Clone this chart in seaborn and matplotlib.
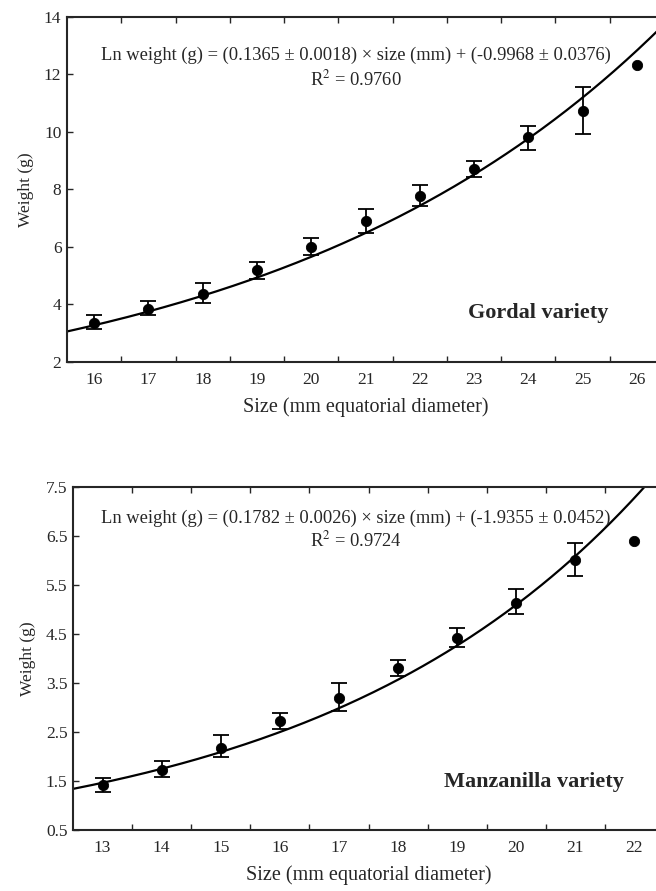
import numpy as np
import pandas as pd
import matplotlib
matplotlib.use("Agg")
import matplotlib.pyplot as plt
import seaborn as sns

# ---- data ----
gordal_size = [16, 17, 18, 19, 20, 21, 22, 23, 24, 25, 26]
gordal_weight = [3.37, 3.86, 4.38, 5.19, 6.01, 6.89, 7.76, 8.70, 9.81, 10.74, 12.32]
gordal_err_low = [0.23, 0.23, 0.32, 0.29, 0.28, 0.42, 0.35, 0.25, 0.42, 0.82, 0.0]
gordal_err_high = [0.26, 0.25, 0.36, 0.29, 0.30, 0.42, 0.38, 0.29, 0.41, 0.84, 0.0]
gordal_slope, gordal_intercept = 0.1365, -0.9968

manz_size = [13, 14, 15, 16, 17, 18, 19, 20, 21, 22]
manz_weight = [1.42, 1.73, 2.18, 2.73, 3.20, 3.80, 4.42, 5.14, 6.02, 6.39]
manz_err_low = [0.15, 0.14, 0.20, 0.16, 0.27, 0.16, 0.19, 0.23, 0.34, 0.0]
manz_err_high = [0.15, 0.18, 0.26, 0.15, 0.29, 0.16, 0.21, 0.27, 0.33, 0.0]
manz_slope, manz_intercept = 0.1782, -1.9355

gordal_eq = "Ln weight (g) = (0.1365 \u00b1 0.0018) \u00d7 size (mm) + (-0.9968 \u00b1 0.0376)"
gordal_r2 = "R$^2$ = 0.9760"
manz_eq = "Ln weight (g) = (0.1782 \u00b1 0.0026) \u00d7 size (mm) + (-1.9355 \u00b1 0.0452)"
manz_r2 = "R$^2$ = 0.9724"

sns.set_style("ticks")
plt.rcParams['font.family'] = ['Liberation Serif', 'DejaVu Serif']
plt.rcParams['mathtext.fontset'] = 'stix'

W, H = 656, 891
fig = plt.figure(figsize=(W / 100, H / 100), dpi=100)

def px_axes(left, top, right, bottom):
    return fig.add_axes([left / W, 1 - bottom / H, (right - left) / W, (bottom - top) / H])

ax1 = px_axes(67, 17, 664, 362)
ax2 = px_axes(73, 487, 664, 830)


def panel(ax, size, weight, elo, ehi, slope, intercept, xlim, ylim, yticks, eq, r2, name,
          eqpos, r2pos, namepos):
    df = pd.DataFrame({"size": size, "weight": weight})
    xs = np.linspace(xlim[0], xlim[1], 300)
    fit = pd.DataFrame({"size": xs, "weight": np.exp(slope * xs + intercept)})
    sns.lineplot(data=fit, x="size", y="weight", ax=ax, color="black", lw=1.6)
    mask = [(a > 0 or b > 0) for a, b in zip(elo, ehi)]
    ex = [s for s, m in zip(size, mask) if m]
    ey = [w for w, m in zip(weight, mask) if m]
    el = [e for e, m in zip(elo, mask) if m]
    eh = [e for e, m in zip(ehi, mask) if m]
    ax.errorbar(ex, ey, yerr=[el, eh], fmt="none", ecolor="black", elinewidth=1.3,
                capsize=5.5, capthick=1.3)
    sns.scatterplot(data=df, x="size", y="weight", ax=ax, color="black", s=55,
                    edgecolor="black", zorder=5)
    ax.set_xlim(*xlim)
    ax.set_ylim(*ylim)
    ax.set_xticks(size)
    ax.set_xticks(np.arange(xlim[0] + 1, xlim[1], 1.0), minor=True)
    ax.set_yticks(yticks)
    ax.set_yticklabels([("%g" % v) for v in yticks])
    ax.tick_params(axis="x", which="major", length=0, pad=7, labelsize=12.5)
    ax.tick_params(axis="x", which="minor", direction="in", length=4, width=1.0,
                   top=True, bottom=True)
    ax.tick_params(axis="y", which="major", direction="in", length=4, width=1.0,
                   labelsize=12.5, right=True, pad=4)
    for sp in ax.spines.values():
        sp.set_visible(True)
        sp.set_linewidth(1.5)
    ax.set_xlabel("Size (mm equatorial diameter)", fontsize=14.5, labelpad=7)
    ax.set_ylabel("Weight (g)", fontsize=12.5, labelpad=7)
    ax.text(eqpos[0], eqpos[1], eq, transform=ax.transAxes, ha="center", va="center",
            fontsize=13.3)
    ax.text(r2pos[0], r2pos[1], r2, transform=ax.transAxes, ha="center", va="center",
            fontsize=13.3)
    ax.text(namepos[0], namepos[1], name, transform=ax.transAxes, ha="center", va="center",
            fontsize=16, fontweight="bold")


panel(ax1, gordal_size, gordal_weight, gordal_err_low, gordal_err_high, gordal_slope,
      gordal_intercept, (15.5, 26.5), (2, 14), [2, 4, 6, 8, 10, 12, 14],
      gordal_eq, gordal_r2, "Gordal variety", (0.484, 0.89), (0.484, 0.818), (0.79, 0.142))
panel(ax2, manz_size, manz_weight, manz_err_low, manz_err_high, manz_slope,
      manz_intercept, (12.5, 22.5), (0.5, 7.5), [0.5, 1.5, 2.5, 3.5, 4.5, 5.5, 6.5, 7.5],
      manz_eq, manz_r2, "Manzanilla variety", (0.479, 0.91), (0.479, 0.845), (0.78, 0.14))

fig.savefig("out.png", dpi=100)
